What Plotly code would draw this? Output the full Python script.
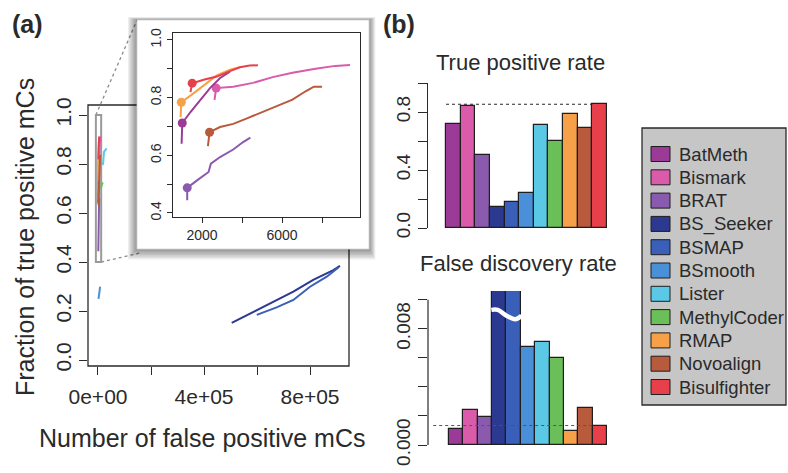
import plotly.graph_objects as go

W, H = 788, 473
FONT = "Liberation Sans, Arial, Helvetica, sans-serif"
INK = "#2a2a2a"

# ---- tools, colours and summary rates -------------------------------------
tools = ["BatMeth", "Bismark", "BRAT", "BS_Seeker", "BSMAP", "BSmooth",
         "Lister", "MethylCoder", "RMAP", "Novoalign", "Bisulfighter"]
colors = ["#9C3B97", "#D95BAA", "#8A5AAE", "#2B3990", "#3A5FB8", "#4A90D9",
          "#5BC8E6", "#6BBF59", "#F7A04A", "#B85A3C", "#E8404A"]
tpr = [0.717, 0.841, 0.503, 0.143, 0.177, 0.244, 0.708, 0.600, 0.788, 0.692, 0.853]
# BS_Seeker / BSMAP run off the top of the broken axis
fdr = [0.00108, 0.00241, 0.00190, 0.0106, 0.0106, 0.00678, 0.00706, 0.00598,
       0.00097, 0.00253, 0.00134]

# ---- ROC-like curves: number of false positive mCs vs fraction of true ----
batmeth_fp = [980, 1013, 1424, 1918, 2411, 2905, 3398]
batmeth_tp = [0.640, 0.712, 0.750, 0.792, 0.834, 0.868, 0.890]
bismark_fp = [2625, 2707, 3562, 4549, 5536, 6523, 7674, 8661, 9401]
bismark_tp = [0.792, 0.833, 0.838, 0.851, 0.871, 0.886, 0.900, 0.910, 0.913]
brat_fp = [1260, 1260, 1753, 2329, 2444, 2905, 3562, 4056, 4418]
brat_tp = [0.444, 0.487, 0.513, 0.542, 0.571, 0.594, 0.620, 0.646, 0.661]
rmap_fp = [931, 964, 1424, 2000, 2740, 3398, 3891]
rmap_tp = [0.732, 0.784, 0.807, 0.838, 0.877, 0.897, 0.905]
novoalign_fp = [2296, 2378, 2905, 3562, 4220, 5043, 5865, 6523, 7181, 7592, 8003]
novoalign_tp = [0.632, 0.680, 0.698, 0.709, 0.727, 0.750, 0.773, 0.793, 0.822, 0.838, 0.838]
bisulfighter_fp = [1424, 1507, 2082, 2740, 3398, 3891, 4385, 4796]
bisulfighter_tp = [0.819, 0.850, 0.862, 0.873, 0.892, 0.905, 0.911, 0.912]

lister_fp = [17700, 20000, 22600, 32800]
lister_tp = [0.796, 0.809, 0.850, 0.864]
methylcoder_fp = [10000, 14000, 17700]
methylcoder_tp = [0.700, 0.714, 0.725]
bsmooth_fp = [2000, 5000, 8000]
bsmooth_tp = [0.250, 0.275, 0.300]
bs_seeker_fp = [504500, 586000, 662000, 737000, 812000, 888000, 913000]
bs_seeker_tp = [0.152, 0.197, 0.238, 0.279, 0.327, 0.367, 0.384]
bsmap_fp = [599000, 674000, 737000, 800000, 863000, 907000]
bsmap_tp = [0.184, 0.215, 0.245, 0.299, 0.340, 0.378]

# default-parameter operating points of the low-FP tools
inset_tools = ["Bismark", "Novoalign", "BRAT", "BatMeth", "RMAP", "Bisulfighter"]
dot_fp = [2707, 2378, 1260, 1013, 964, 1507]
dot_tp = [0.833, 0.680, 0.487, 0.712, 0.784, 0.850]

curves = {
    "BatMeth": (batmeth_fp, batmeth_tp),
    "Bismark": (bismark_fp, bismark_tp),
    "BRAT": (brat_fp, brat_tp),
    "BS_Seeker": (bs_seeker_fp, bs_seeker_tp),
    "BSMAP": (bsmap_fp, bsmap_tp),
    "BSmooth": (bsmooth_fp, bsmooth_tp),
    "Lister": (lister_fp, lister_tp),
    "MethylCoder": (methylcoder_fp, methylcoder_tp),
    "RMAP": (rmap_fp, rmap_tp),
    "Novoalign": (novoalign_fp, novoalign_tp),
    "Bisulfighter": (bisulfighter_fp, bisulfighter_tp),
}
color_of = dict(zip(tools, colors))

# zoomed region shown in the inset
zoom_x = [-8000, 12000]
zoom_y = [0.4, 1.0]


def px(x):
    return x / W


def py(y):
    return 1 - y / H


# ---- panel geometry (pixels on the 788x473 page) ---------------------------
MAIN_DX, MAIN_DY = [px(88), px(349)], [py(366), py(105)]
MAIN_RX, MAIN_RY = [-37700, 947000], [-0.0245, 1.041]
INS_DX, INS_DY = [px(173), px(360)], [py(217), py(33)]
INS_RX, INS_RY = [550, 9900], [0.386, 1.024]
INS_BOX = (137, 20, 369, 249)
TPR_DX, TPR_DY = [px(428), px(612)], [py(228), py(83)]
TPR_RX = [-1.73, 10.84]
FDR_DX, FDR_DY = [px(428), px(612)], [py(445), py(291)]
FDR_RX, FDR_RY = [-1.962, 10.85], [0, 0.0106]


def to_paper(v, rng, dom):
    return dom[0] + (v - rng[0]) / (rng[1] - rng[0]) * (dom[1] - dom[0])


fig = go.Figure()

# main panel: every tool
for name in tools:
    fp, tp = curves[name]
    fig.add_trace(go.Scatter(x=fp, y=tp, mode="lines", xaxis="x", yaxis="y",
                             line=dict(color=color_of[name], width=2),
                             showlegend=False, hoverinfo="skip"))

# inset: low false-positive tools with their default points
for name, fx, fy in zip(inset_tools, dot_fp, dot_tp):
    fp, tp = curves[name]
    fig.add_trace(go.Scatter(x=fp, y=tp, mode="lines", xaxis="x2", yaxis="y2",
                             line=dict(color=color_of[name], width=2),
                             showlegend=False, hoverinfo="skip"))
    fig.add_trace(go.Scatter(x=[fx], y=[fy], mode="markers", xaxis="x2", yaxis="y2",
                             marker=dict(color=color_of[name], size=9),
                             showlegend=False, hoverinfo="skip"))

# bar panels
bar_line = dict(color="#1e1e1e", width=1.2)
fig.add_trace(go.Bar(x=list(range(len(tools))), y=tpr, width=1, xaxis="x3", yaxis="y3",
                     marker=dict(color=colors, line=bar_line), showlegend=False,
                     hovertext=tools))
fig.add_trace(go.Bar(x=list(range(len(tools))), y=fdr, width=1, xaxis="x4", yaxis="y4",
                     marker=dict(color=colors, line=bar_line), showlegend=False,
                     hovertext=tools))

# axis-break squiggle across the two clipped bars
brk_x = [2.45, 2.9, 3.5, 4.1, 4.55]
brk_y = [0.0093, 0.0093, 0.0089, 0.00866, 0.0089]
fig.add_trace(go.Scatter(x=brk_x, y=brk_y, mode="lines", xaxis="x4", yaxis="y4",
                         line=dict(color="white", width=4.5, shape="spline"),
                         showlegend=False, hoverinfo="skip"))

tick_font = lambda s: dict(family=FONT, size=s, color=INK)


def r_axis(**kw):
    base = dict(showgrid=False, zeroline=False, ticks="outside", ticklen=7,
                tickwidth=1.2, tickcolor=INK, fixedrange=True)
    base.update(kw)
    return base


n = len(tools)
fig.update_layout(
    width=W, height=H, margin=dict(l=0, r=0, t=0, b=0),
    paper_bgcolor="white", plot_bgcolor="rgba(0,0,0,0)",
    bargap=0, barmode="overlay", template="none",
    font=dict(family=FONT, color=INK),
    xaxis=r_axis(domain=MAIN_DX, range=MAIN_RX, anchor="y", showline=False,
                 tickvals=[0, 2e5, 4e5, 6e5, 8e5],
                 ticktext=["0e+00", "", "4e+05", "", "8e+05"],
                 tickfont=tick_font(21), ticklen=8, ticklabelstandoff=4),
    yaxis=r_axis(domain=MAIN_DY, range=MAIN_RY, anchor="x", showline=False,
                 tickvals=[0, 0.2, 0.4, 0.6, 0.8, 1.0],
                 ticktext=["0.0", "0.2", "0.4", "0.6", "0.8", "1.0"],
                 tickangle=-90, tickfont=tick_font(21), ticklen=8),
    xaxis2=r_axis(domain=INS_DX, range=INS_RX, anchor="y2", showline=True,
                  mirror=True, linecolor=INK, linewidth=1,
                  tickvals=[2000, 4000, 6000, 8000],
                  ticktext=["2000", "", "6000", ""], tickfont=tick_font(14), ticklen=5),
    yaxis2=r_axis(domain=INS_DY, range=INS_RY, anchor="x2", showline=True,
                  mirror=True, linecolor=INK, linewidth=1,
                  tickvals=[0.4, 0.5, 0.6, 0.7, 0.8, 0.9, 1.0],
                  ticktext=["0.4", "", "0.6", "", "0.8", "", "1.0"],
                  tickangle=-90, tickfont=tick_font(14), ticklen=5),
    xaxis3=dict(domain=TPR_DX, range=TPR_RX, anchor="y3", visible=False, fixedrange=True),
    yaxis3=r_axis(domain=TPR_DY, range=[0, 1.0], anchor="x3", showline=True,
                  linecolor=INK, linewidth=1.2,
                  tickvals=[0, 0.2, 0.4, 0.6, 0.8, 1.0],
                  ticktext=["0.0", "", "0.4", "", "0.8", ""],
                  tickangle=-90, tickfont=tick_font(19), ticklen=9),
    xaxis4=dict(domain=FDR_DX, range=FDR_RX, anchor="y4", visible=False, fixedrange=True),
    yaxis4=r_axis(domain=FDR_DY, range=FDR_RY, anchor="x4", showline=False,
                  tickvals=[0, 0.002, 0.004, 0.006, 0.008, 0.010],
                  ticktext=["0.000", "", "", "", "0.008", ""],
                  tickangle=-90, tickfont=tick_font(19), ticklen=9),
)

shapes = []
# main panel frame
shapes.append(dict(type="rect", xref="paper", yref="paper", layer="below",
                   x0=MAIN_DX[0], x1=MAIN_DX[1], y0=MAIN_DY[0], y1=MAIN_DY[1],
                   line=dict(color=INK, width=1.3)))
# zoom box in the main panel
shapes.append(dict(type="rect", xref="x", yref="y", layer="below",
                   x0=zoom_x[0], x1=zoom_x[1], y0=zoom_y[0], y1=zoom_y[1],
                   line=dict(color="#9a9a9a", width=2)))
# connectors from the zoom box to the inset
bx0, by0, bx1, by1 = INS_BOX
zx0 = to_paper(zoom_x[0], MAIN_RX, MAIN_DX)
zx1 = to_paper(zoom_x[1], MAIN_RX, MAIN_DX)
zy0 = to_paper(zoom_y[0], MAIN_RY, MAIN_DY)
zy1 = to_paper(zoom_y[1], MAIN_RY, MAIN_DY)
dash = dict(color="#8a8a8a", width=1.3, dash="dot")
shapes.append(dict(type="line", xref="paper", yref="paper", layer="below",
                   x0=zx0, y0=zy1, x1=px(bx0), y1=py(by0), line=dash))
shapes.append(dict(type="line", xref="paper", yref="paper", layer="below",
                   x0=zx1, y0=zy0, x1=px(bx0 + 3), y1=py(by1 + 4), line=dash))
# inset drop shadow and card
for k in range(1, 8):
    shapes.append(dict(type="rect", xref="paper", yref="paper", layer="below",
                       x0=px(bx0 - 1.3 * k), x1=px(bx1 + 0.9 * k),
                       y0=py(by1 + 1.5 * k), y1=py(by0 - 0.4 * k),
                       fillcolor="rgba(0,0,0,0.065)", line=dict(width=0)))
shapes.append(dict(type="rect", xref="paper", yref="paper", layer="below",
                   x0=px(bx0), x1=px(bx1), y0=py(by1), y1=py(by0),
                   fillcolor="white", line=dict(color="#d0d0d0", width=0.8)))
# reference lines at the Bisulfighter level
shapes.append(dict(type="line", xref="x3", yref="y3", x0=-0.5, x1=n - 1.5,
                   y0=tpr[-1], y1=tpr[-1], line=dict(color=INK, width=1.1, dash="dot")))
shapes.append(dict(type="line", xref="x4", yref="y4", x0=-1.6, x1=n - 1.5,
                   y0=fdr[-1], y1=fdr[-1], line=dict(color="#555", width=1, dash="dot")))
# FDR axis line stops at the last tick
shapes.append(dict(type="line", xref="paper", yref="y4", x0=FDR_DX[0], x1=FDR_DX[0],
                   y0=0, y1=0.010, line=dict(color=INK, width=1.2)))

# legend
LEG = (642, 128, 786, 405)
shapes.append(dict(type="rect", xref="paper", yref="paper",
                   x0=px(LEG[0]), x1=px(LEG[2]), y0=py(LEG[3]), y1=py(LEG[1]),
                   fillcolor="#c6c6c6", line=dict(color=INK, width=1.3)))
annotations = []
for i, (name, c) in enumerate(zip(tools, colors)):
    yc = 154 + i * 23.3
    shapes.append(dict(type="rect", xref="paper", yref="paper",
                       x0=px(651), x1=px(670), y0=py(yc + 7.5), y1=py(yc - 7.5),
                       fillcolor=c, line=dict(color="#1e1e1e", width=1)))
    annotations.append(dict(text=name, x=px(677), y=py(yc), xanchor="left", yanchor="middle",
                            font=dict(family=FONT, size=18.5, color=INK)))

fig.update_layout(shapes=shapes)


def label(text, x, y, size, angle=0, bold=False):
    return dict(text=f"<b>{text}</b>" if bold else text, x=px(x), y=py(y),
                xref="paper", yref="paper", showarrow=False,
                xanchor="center", yanchor="middle", textangle=angle,
                font=dict(family=FONT, size=size, color=INK))


annotations = [dict(a, xref="paper", yref="paper", showarrow=False) for a in annotations]
annotations += [
    label("(a)", 27, 24, 25, bold=True),
    label("(b)", 399, 24, 25, bold=True),
    label("True positive rate", 520, 62, 22),
    label("False discovery rate", 518, 263, 22),
    label("Fraction of true positive mCs", 25, 237, 25, angle=-90),
    label("Number of false positive mCs", 202, 438, 25),
]
fig.update_layout(annotations=annotations)

fig.write_html("out.html")
